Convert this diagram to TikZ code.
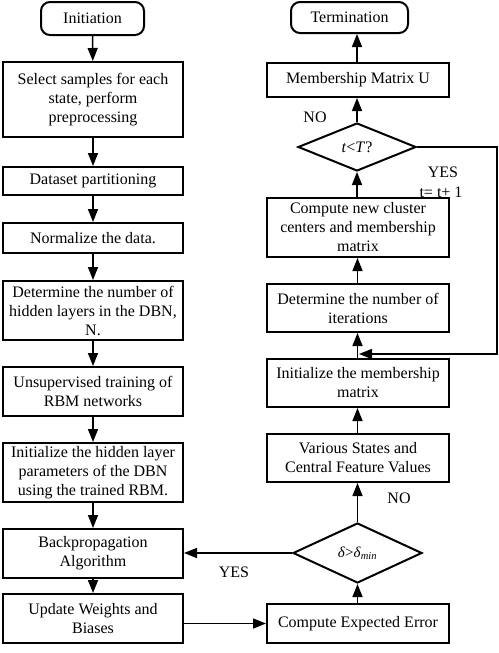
\documentclass[tikz,border=0pt]{standalone}
\usepackage{fontspec}
\setmainfont{Liberation Serif}
\usetikzlibrary{shapes.geometric,arrows.meta}
\begin{document}
\begin{tikzpicture}[x=1pt,y=-1pt,
  every node/.style={font=\fontsize{16}{19}\selectfont},
  box/.style={draw,line width=2pt,inner sep=0pt,align=center,minimum width=180pt},
  rbox/.style={box,minimum width=182pt},
  term/.style={draw,line width=2pt,rounded corners=9pt,inner sep=0pt,align=center},
  dia/.style={draw,diamond,line width=2pt,inner sep=0pt,align=center},
  arr/.style={line width=1.5pt,-{Triangle[length=13pt,width=10pt]}},
  lbl/.style={inner sep=0pt}]
\useasboundingbox (0,0) rectangle (498,653);
% left column
\node[term,minimum width=103pt,minimum height=33pt] (init) at (92.5,18.5) {Initiation};
\node[box,minimum height=75pt] (b1) at (93,99.5) {Select samples for each\\state, perform\\preprocessing};
\node[box,minimum height=28pt] (b2) at (93,181) {Dataset partitioning};
\node[box,minimum height=30pt] (b3) at (93,238) {Normalize the data.};
\node[box,minimum height=59pt] (b4) at (93,310.5) {Determine the number of\\hidden layers in the DBN,\\N.};
\node[box,minimum height=49pt] (b5) at (93,391.5) {Unsupervised training of\\RBM networks};
\node[box,minimum height=59pt] (b6) at (93,472.5) {Initialize the hidden layer\\parameters of the DBN\\using the trained RBM.};
\node[box,minimum height=49pt] (b7) at (93,553.5) {Backpropagation\\Algorithm};
\node[box,minimum height=49pt] (b8) at (93,618.5) {Update Weights and\\Biases};
% right column
\node[term,minimum width=117pt,minimum height=31pt] (term) at (349.5,17.5) {Termination};
\node[rbox,minimum height=34pt] (r1) at (358,80) {Membership Matrix U};
\node[dia,minimum width=118pt,minimum height=48pt,aspect=2.46] (d1) at (357,147) {\textit{t}<\textit{T}?};
\node[rbox,minimum height=59pt] (r2) at (358,227.5) {Compute new cluster\\centers and membership\\matrix};
\node[rbox,minimum height=48pt] (r3) at (358,308) {Determine the number of\\iterations};
\node[rbox,minimum height=48pt] (r4) at (358,383) {Initialize the membership\\matrix};
\node[rbox,minimum height=48pt] (r5) at (358,458) {Various States and\\Central Feature Values};
\node[dia,minimum width=129pt,minimum height=60pt,aspect=2.15,font=\fontsize{15}{18}\selectfont] (d2) at (357.5,553) {\textit{δ}>\textit{δ}\textsubscript{\textit{min}}};
\node[rbox,minimum height=39pt] (r6) at (358,623.5) {Compute Expected Error};
% left arrows
\draw[arr] (init) -- (b1);
\draw[arr] (b1) -- (b2);
\draw[arr] (b2) -- (b3);
\draw[arr] (b3) -- (b4);
\draw[arr] (b4) -- (b5);
\draw[arr] (b5) -- (b6);
\draw[arr] (b6) -- (b7);
\draw[arr] (b7) -- (b8);
% cross arrows
\draw[arr] (b8.east |- r6.west) -- (r6.west);
\draw[arr] (d2.west) -- (b7.east |- d2.west);
% right arrows
\draw[arr] (r6.north -| d2.south) -- (d2.south);
\draw[arr] (d2.north) -- (d2.north |- r5.south);
\draw[arr] (r5.north -| d2.north) -- (d2.north |- r4.south);
\draw[arr] (r4.north -| d2.north) -- (d2.north |- r3.south);
\draw[arr] (r3.north -| d2.north) -- (d2.north |- r2.south);
\draw[arr] (r2.north -| d1.south) -- (d1.south);
\draw[arr] (d1.north) -- (d1.north |- r1.south);
\draw[arr] (r1.north -| d1.north) -- (d1.north |- term.south);
% loop back
\coordinate (rx) at (497,354);
\coordinate (mj) at (359,354);
\draw[arr] (d1.east) -| (rx) -- (mj);
% labels
\node[lbl] (no1) at (315,117) {NO};
\node[lbl] (yes1) at (443,172) {YES};
\node[lbl] (tt) at (441,192) {t= t+ 1};
\node[lbl] (no2) at (399,498) {NO};
\node[lbl] (yes2) at (234,572) {YES};
\end{tikzpicture}
\end{document}
